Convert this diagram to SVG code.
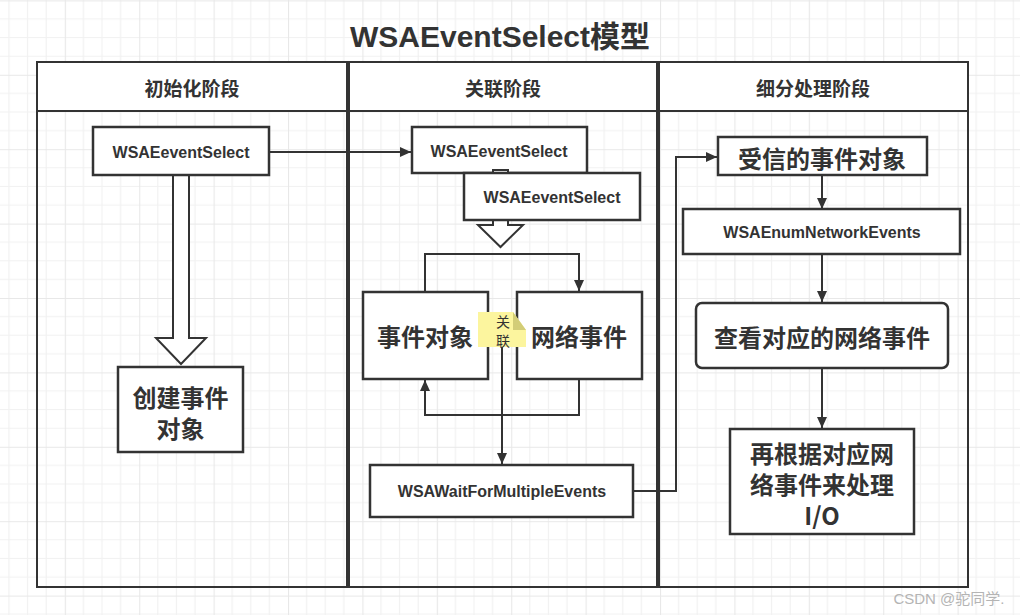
<svg xmlns="http://www.w3.org/2000/svg" width="1020" height="615" viewBox="0 0 1020 615">
<defs>
<pattern id="grid" patternUnits="userSpaceOnUse" x="-9.6" y="0.4" width="74.4" height="74.4">
<path d="M18.6,0V74.4M37.2,0V74.4M55.8,0V74.4M0,18.6H74.4M0,37.2H74.4M0,55.8H74.4" stroke="#f1f1f1" stroke-width="1.2" fill="none"/>
<path d="M0.5,0V74.4M0,0.5H74.4" stroke="#e8e8e8" stroke-width="1.2" fill="none"/>
</pattern>
<marker id="ah" markerUnits="userSpaceOnUse" markerWidth="12" markerHeight="12" viewBox="0 0 12 12" refX="11" refY="6" orient="auto">
<path d="M0,1 L11,6 L0,11 z" fill="#333"/>
</marker>
<style>
.lane{fill:none;stroke:#333;stroke-width:2}
.hdr{fill:#fff;stroke:#333;stroke-width:2}
.box{fill:#fff;stroke:#333;stroke-width:2.5}
.hollow{fill:#fff;stroke:#333;stroke-width:2;stroke-linejoin:miter}
.con{fill:none;stroke:#333;stroke-width:2;marker-end:url(#ah)}
.line{fill:none;stroke:#333;stroke-width:2}
text{font-family:"Liberation Sans","Noto Sans CJK SC",sans-serif;fill:#333;text-anchor:middle;dominant-baseline:central}
.en{font-size:16px;font-weight:bold}
.cn{font-family:"Noto Sans CJK SC",sans-serif;font-size:24px;font-weight:bold}
.h{font-family:"Noto Sans CJK SC",sans-serif;font-size:19px;font-weight:bold}
</style>
</defs>
<rect width="1020" height="615" fill="#fff"/>
<rect width="1020" height="615" fill="url(#grid)"/>

<text x="500" y="36" style="font-size:30px;font-weight:bold">WSAEventSelect模型</text>

<g id="lane1">
<rect class="hdr" x="37" y="62" width="310" height="49"/>
<rect class="lane" x="37" y="62" width="310" height="525"/>
<text class="h" x="192" y="87">初始化阶段</text>
</g>
<g id="lane2">
<rect class="hdr" x="349" y="62" width="308" height="49"/>
<rect class="lane" x="349" y="62" width="308" height="525"/>
<text class="h" x="503" y="87">关联阶段</text>
</g>
<g id="lane3">
<rect class="hdr" x="659" y="62" width="309" height="49"/>
<rect class="lane" x="659" y="62" width="309" height="525"/>
<text class="h" x="813" y="87">细分处理阶段</text>
</g>

<g id="hollow-arrows">
<polygon class="hollow" points="173,175 189,175 189,338 206,338 181,364 156,338 173,338"/>
<polygon class="hollow" points="493,170 508,170 508,225 523,225 500.5,247 478,225 493,225"/>
</g>

<g id="connectors">
<path class="con" d="M269,152 H411"/>
<path class="con" d="M425,291 V254 H579 V291"/>
<path class="con" d="M579,379 V415 H425 V380"/>
<path class="con" d="M502,347 V464"/>
<path class="con" d="M633,491 H676 V157 H717"/>
<path class="con" d="M822,175 V209"/>
<path class="con" d="M822,254 V302"/>
<path class="con" d="M822,368 V428"/>
</g>

<g id="n-select1">
<rect class="box" x="93" y="127" width="176" height="48"/>
<text class="en" x="181" y="152">WSAEeventSelect</text>
</g>
<g id="n-create">
<rect class="box" x="118" y="367" width="125" height="85"/>
<text class="cn" x="180.5" y="396">创建事件</text>
<text class="cn" x="180.5" y="427">对象</text>
</g>
<g id="n-select2">
<rect class="box" x="412" y="127" width="175" height="46"/>
<text class="en" x="499" y="151">WSAEeventSelect</text>
</g>
<polygon class="hollow" points="493,170 508,170 508,173 493,173" style="stroke-width:2"/>
<g id="n-select3">
<rect class="box" x="464" y="173" width="176" height="47"/>
<text class="en" x="552" y="197">WSAEeventSelect</text>
</g>
<g id="n-event-obj">
<rect class="box" x="363" y="292" width="125" height="87"/>
<text class="cn" x="425" y="335">事件对象</text>
</g>
<g id="n-net-event">
<rect class="box" x="517" y="292" width="125" height="87"/>
<text class="cn" x="579" y="335">网络事件</text>
</g>
<g id="n-note">
<polygon points="478,312 513,312 526,330 526,347 478,347" fill="#fcf59e"/>
<polygon points="513,312 526,330 513,330" fill="#d3cd77"/>
<text x="503" y="321" style="font-family:'Noto Sans CJK SC',sans-serif;font-size:14px">关</text>
<text x="503" y="340" style="font-family:'Noto Sans CJK SC',sans-serif;font-size:14px">联</text>
</g>
<g id="n-wait">
<rect class="box" x="370" y="465" width="263" height="52"/>
<text class="en" x="502" y="491">WSAWaitForMultipleEvents</text>
</g>
<g id="n-signaled">
<rect class="box" x="718" y="137" width="209" height="38"/>
<text class="cn" x="822" y="157">受信的事件对象</text>
</g>
<g id="n-enum">
<rect class="box" x="683" y="209" width="277" height="45"/>
<text class="en" x="822" y="232">WSAEnumNetworkEvents</text>
</g>
<g id="n-check">
<rect class="box" x="696" y="303" width="252" height="65" rx="6"/>
<text class="cn" x="822" y="336">查看对应的网络事件</text>
</g>
<g id="n-handle">
<rect class="box" x="730" y="429" width="184" height="105"/>
<text class="cn" x="822" y="452">再根据对应网</text>
<text class="cn" x="822" y="483">络事件来处理</text>
<text class="cn" x="822" y="514">I/O</text>
</g>

<text x="949" y="598" style="font-family:'Liberation Sans','Noto Sans CJK SC',sans-serif;font-size:15px;fill:#b4b4b4">CSDN @驼同学.</text>
</svg>
